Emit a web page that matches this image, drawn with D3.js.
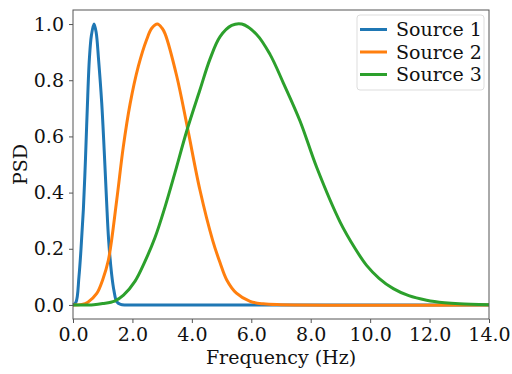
<!DOCTYPE html>
<html><head><meta charset="utf-8">
<script src="https://cdn.jsdelivr.net/npm/d3@7"></script>
<style>body{margin:0;background:#fff}svg{display:block}text{font-family:"DejaVu Serif",serif}</style>
</head><body><svg id="c" width="512" height="374"></svg>
<script>
const seriesNames = ["Source 1", "Source 2", "Source 3"];
const seriesColors = ["#1f77b4", "#ff7f0e", "#2ca02c"];
const xTicks = [0, 2, 4, 6, 8, 10, 12, 14];
const yTicks = [0, 0.2, 0.4, 0.6, 0.8, 1.0];

const freq1 = [0, 0.1, 0.2, 0.27, 0.35, 0.42, 0.48, 0.55, 0.62, 0.707, 0.78, 0.86, 0.966, 1.05, 1.13, 1.2, 1.3, 1.38, 1.47, 1.6, 1.8, 3, 14];
const psd1  = [0, 0.01, 0.1, 0.2, 0.342, 0.52, 0.697, 0.874, 0.96, 1.0, 0.97, 0.874, 0.72, 0.55, 0.37, 0.23, 0.11, 0.05, 0.012, 0.002, 0, 0, 0];

const freq2 = [0, 0.3, 0.5, 0.8, 1.0, 1.19, 1.47, 1.69, 1.92, 2.2, 2.48, 2.65, 2.84, 3.0, 3.1, 3.49, 3.85, 4.27, 4.7, 4.95, 5.17, 5.5, 5.96, 6.4, 7, 14];
const psd2  = [0, 0.002, 0.01, 0.041, 0.09, 0.159, 0.372, 0.561, 0.715, 0.85, 0.945, 0.985, 1.0, 0.985, 0.965, 0.815, 0.632, 0.41, 0.23, 0.15, 0.09, 0.042, 0.013, 0.004, 0.001, 0];

const freq3 = [0, 0.7, 1.0, 1.4, 1.7, 2.09, 2.4, 2.76, 3.1, 3.43, 3.83, 4.27, 4.61, 4.95, 5.34, 5.68, 6.18, 6.63, 7.08, 7.64, 8.2, 8.99, 9.5, 9.88, 10.3, 10.78, 11.3, 11.9, 12.5, 13.0, 14];
const psd3  = [0, 0.001, 0.005, 0.014, 0.035, 0.085, 0.15, 0.24, 0.35, 0.47, 0.62, 0.765, 0.875, 0.955, 0.995, 1.0, 0.963, 0.892, 0.79, 0.655, 0.49, 0.295, 0.2, 0.141, 0.095, 0.058, 0.033, 0.017, 0.008, 0.004, 0.001];

const freqs = [freq1, freq2, freq3];
const psds = [psd1, psd2, psd3];

const svg = d3.select("#c");
const L = 73, R = 489, T = 10, B = 319;
const FS = 19;
const x = d3.scaleLinear().domain([0, 14]).range([L, R]);
const y = d3.scaleLinear().domain([-0.05, 1.05]).range([B, T]);

const g = svg.append("g");
const line = d3.line().x(d => x(d[0])).y(d => y(d[1])).curve(d3.curveCatmullRom.alpha(0.5));
freqs.forEach((f, i) => {
  const pts = f.map((v, j) => [v, psds[i][j]]);
  g.append("path").datum(pts).attr("d", line).attr("fill", "none")
    .attr("stroke", seriesColors[i]).attr("stroke-width", 3).attr("stroke-linejoin", "round");
});

// frame
svg.append("rect").attr("x", L).attr("y", T).attr("width", R - L).attr("height", B - T)
  .attr("fill", "none").attr("stroke", "#555").attr("stroke-width", 1);

const fmt = d3.format(".1f");
const xa = svg.append("g").attr("transform", `translate(0,${B})`)
  .call(d3.axisBottom(x).tickValues(xTicks).tickFormat(fmt).tickSize(4).tickPadding(5));
const ya = svg.append("g").attr("transform", `translate(${L},0)`)
  .call(d3.axisLeft(y).tickValues(yTicks).tickFormat(fmt).tickSize(4).tickPadding(5));
[xa, ya].forEach(a => {
  a.select(".domain").remove();
  a.selectAll("line").attr("stroke", "#555");
  a.selectAll("text").attr("font-family", "DejaVu Serif").attr("font-size", FS).attr("fill", "#111");
});

svg.append("text").attr("x", (L + R) / 2).attr("y", 364).attr("text-anchor", "middle")
  .attr("font-size", FS).attr("fill", "#111").text("Frequency (Hz)");
svg.append("text").attr("transform", `translate(27,${(T + B) / 2}) rotate(-90)`).attr("text-anchor", "middle")
  .attr("font-size", FS).attr("fill", "#111").text("PSD");

// legend
const lg = svg.append("g");
lg.append("rect").attr("x", 357).attr("y", 15).attr("width", 127).attr("height", 75).attr("rx", 3)
  .attr("fill", "#fff").attr("fill-opacity", 0.8).attr("stroke", "#ddd");
seriesNames.forEach((n, i) => {
  const yy = 29.5 + i * 22.5;
  lg.append("line").attr("x1", 360).attr("x2", 387).attr("y1", yy).attr("y2", yy)
    .attr("stroke", seriesColors[i]).attr("stroke-width", 3);
  lg.append("text").attr("x", 396).attr("y", yy + 6.5).attr("font-size", FS).attr("fill", "#111").text(n);
});
</script></body></html>
